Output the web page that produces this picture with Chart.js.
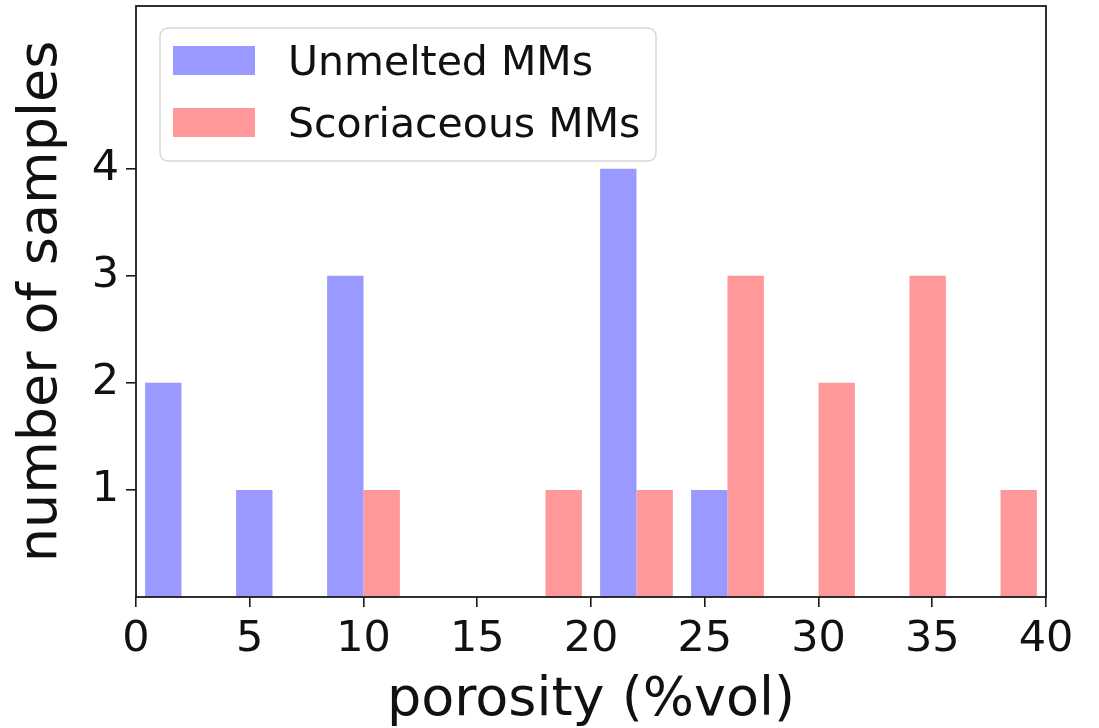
<!DOCTYPE html>
<html>
<head>
<meta charset="utf-8">
<script src="https://cdn.jsdelivr.net/npm/chart.js@4/dist/chart.umd.min.js"></script>
<style>
  html, body { margin: 0; padding: 0; background: #fff; }
  #wrap { width: 1099px; height: 728px; position: relative; }
</style>
</head>
<body>
<div id="wrap"><canvas id="c" width="1099" height="728"></canvas></div>
<script>
// Histogram bins (porosity %vol), each 4 units wide
const binLabels = ['0-4','4-8','8-12','12-16','16-20','20-24','24-28','28-32','32-36','36-40'];
const unmelted    = [2, 1, 3, 0, 0, 4, 1, 0, 0, 0];
const scoriaceous = [0, 0, 1, 0, 1, 1, 3, 2, 3, 1];
const xTickValues = [0, 5, 10, 15, 20, 25, 30, 35, 40];
const yTickValues = [1, 2, 3, 4];
const seriesNames = ['Unmelted MMs', 'Scoriaceous MMs'];

const FONT = '"DejaVu Sans", sans-serif';
const BLUE = 'rgb(153,153,255)';
const RED = 'rgb(255,153,153)';

const framePlugin = {
  id: 'frame',
  afterDraw(chart) {
    const {ctx, chartArea: a} = chart;
    ctx.save();
    ctx.strokeStyle = '#1a1a1a';
    ctx.lineWidth = 1.8;
    ctx.strokeRect(a.left, a.top, a.right - a.left, a.bottom - a.top);
    ctx.restore();
  }
};

const insideLegend = {
  id: 'insideLegend',
  afterDraw(chart) {
    const {ctx, chartArea: a} = chart;
    const x0 = a.left + 24, y0 = a.top + 22, w = 496, h = 133, r = 8;
    ctx.save();
    ctx.beginPath();
    ctx.roundRect(x0, y0, w, h, r);
    ctx.fillStyle = 'rgba(255,255,255,0.8)';
    ctx.fill();
    ctx.strokeStyle = '#d6d6d6';
    ctx.lineWidth = 1.5;
    ctx.stroke();
    ctx.font = '41px ' + FONT;
    ctx.textBaseline = 'alphabetic';
    ctx.textAlign = 'left';
    chart.data.datasets.forEach((ds, i) => {
      const rowY = y0 + 18 + i * 62;
      ctx.fillStyle = ds.backgroundColor;
      ctx.fillRect(x0 + 13, rowY, 82, 29);
      ctx.fillStyle = '#111';
      ctx.fillText(ds.label, x0 + 128, rowY + 29);
    });
    ctx.restore();
  }
};

new Chart(document.getElementById('c'), {
  type: 'bar',
  data: {
    labels: binLabels,
    datasets: [
      { label: seriesNames[0], data: unmelted, backgroundColor: BLUE, borderWidth: 0 },
      { label: seriesNames[1], data: scoriaceous, backgroundColor: RED, borderWidth: 0 }
    ]
  },
  options: {
    responsive: false,
    animation: false,
    devicePixelRatio: 1,
    layout: { padding: { top: 6, right: 53, left: 0, bottom: 0 } },
    datasets: { bar: { categoryPercentage: 0.8, barPercentage: 1.0 } },
    plugins: {
      legend: { display: false },
      tooltip: { enabled: false }
    },
    scales: {
      x: {
        type: 'category',
        display: false,
        offset: true
      },
      xLin: {
        type: 'linear',
        position: 'bottom',
        axis: 'x',
        min: 0,
        max: 40,
        offset: false,
        afterBuildTicks: (s) => { s.ticks = xTickValues.map(v => ({ value: v })); },
        afterFit: (s) => { s.height = 131; s.paddingLeft = 0; s.paddingRight = 0; },
        border: { display: false },
        grid: { display: true, offset: false, drawOnChartArea: false, drawTicks: true, tickLength: 10, color: '#1a1a1a', lineWidth: 1.6 },
        ticks: { color: '#111', font: { family: FONT, size: 43 }, padding: 7, maxRotation: 0, autoSkip: false },
        title: { display: true, text: 'porosity (%vol)', color: '#111', font: { family: FONT, size: 54, lineHeight: 1.0 }, padding: { top: 0, bottom: 0 } }
      },
      y: {
        type: 'linear',
        min: 0,
        max: 5.52,
        afterBuildTicks: (s) => { s.ticks = yTickValues.map(v => ({ value: v })); },
        afterFit: (s) => { s.width = 136; s.paddingTop = 0; s.paddingBottom = 0; },
        border: { display: false },
        grid: { display: true, drawOnChartArea: false, drawTicks: true, tickLength: 10, color: '#1a1a1a', lineWidth: 1.6 },
        ticks: { color: '#111', font: { family: FONT, size: 43 }, padding: 7 },
        title: { display: true, text: 'number of samples', color: '#111', font: { family: FONT, size: 54 }, padding: { top: 10, bottom: 0 } }
      }
    }
  },
  plugins: [framePlugin, insideLegend]
});
</script>
</body>
</html>
